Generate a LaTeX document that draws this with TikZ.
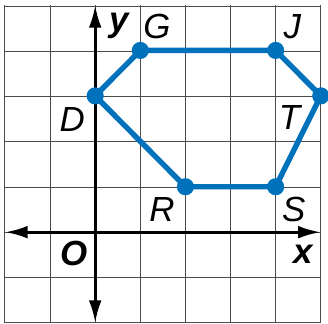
\documentclass[tikz,border=0pt]{standalone}
\usepackage{fontspec}
\setmainfont{Liberation Sans}
\usepackage{xcolor}
\usetikzlibrary{arrows.meta}
\definecolor{hexblue}{RGB}{0,114,188}

\begin{document}
\begin{tikzpicture}[x=1cm,y=1.007cm,
  every node/.style={font=\fontsize{22}{22}\selectfont\itshape,inner sep=0pt},
  axis/.style={line width=1.9pt,{Latex[length=5mm,width=2.8mm]}-{Latex[length=5mm,width=2.8mm]}},
  edge/.style={hexblue,line width=3.4pt,line join=round},
  vtx/.style={circle,fill=hexblue,minimum size=3.8mm}]
  \useasboundingbox (-2.11,-2.02) rectangle (5.16,5.11);
  \draw[black!70,line width=0.6pt] (-2,-2) grid (5,5);
  % axes
  \coordinate (xl) at (-2,0); \coordinate (xr) at (5,0);
  \coordinate (yb) at (0,-2); \coordinate (yt) at (0,5);
  \draw[axis] (xl)--(xr); \draw[axis] (yb)--(yt);
  % hexagon
  \coordinate (D) at (0,3); \coordinate (G) at (1,4); \coordinate (J) at (4,4);
  \coordinate (T) at (5,3); \coordinate (S) at (4,1); \coordinate (R) at (2,1);
  \draw[edge] (D)--(G)--(J)--(T)--(S)--(R)--cycle;
  \foreach \p in {D,G,J,T,S,R} \node[vtx] (dot\p) at (\p) {};
  % labels
  \node (ylab) at (0.53,4.53) {\bfseries y};
  \node (xlab) at (4.6,-0.48) {\bfseries x};
  \node (olab) at (-0.46,-0.48) {\bfseries O};
  \node (glab) at (1.37,4.52) {G};
  \node (jlab) at (4.37,4.53) {J};
  \node (dlab) at (-0.51,2.48) {D};
  \node (tlab) at (4.31,2.52) {T};
  \node (rlab) at (1.48,0.5) {R};
  \node (slab) at (4.4,0.5) {S};
\end{tikzpicture}
\end{document}
